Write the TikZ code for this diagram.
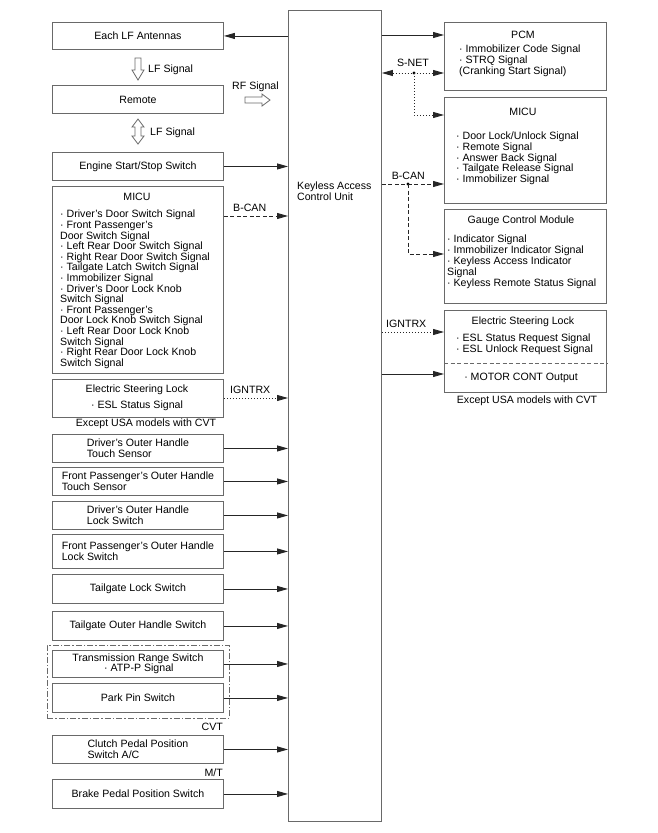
\documentclass[tikz,border=0pt]{standalone}
\usepackage{fontspec}
\setmainfont{Liberation Sans}
\usetikzlibrary{arrows.meta}
\definecolor{boxgray}{RGB}{105,105,105}
\begin{document}
\begin{tikzpicture}[x=1pt,y=-1pt,
  every node/.style={font=\fontsize{10.6}{10.6}\selectfont, inner sep=0pt, text=black},
  box/.style={draw=boxgray, line width=0.9pt, fill=white, anchor=north west, align=left},
  lbox/.style={box, minimum width=171pt},
  rbox/.style={box, minimum width=162pt},
  arr/.style={draw=black!85, line width=0.9pt, -{Triangle[length=11pt,width=6pt]}},
  dsh/.style={arr, dash pattern=on 4pt off 2.5pt},
  dtt/.style={arr, dash pattern=on 1.2pt off 1.8pt},
  hollow/.style={draw=boxgray, line width=0.8pt, fill=white, line join=miter},
  lbl/.style={anchor=west}]
\useasboundingbox (0,0) rectangle (658,833);

% central unit
\node[box, minimum width=93pt, minimum height=811pt] (kacu) at (288,10) {};
\node[anchor=north west, align=left] (kacut) at (297,182) {Keyless Access\\Control Unit};

% dash-dot group
\node[draw=boxgray, line width=0.8pt, dash pattern=on 6pt off 2pt on 1.5pt off 2pt,
  minimum width=182pt, minimum height=73pt, anchor=north west] (atgroup) at (47,645) {};

% left boxes
\node[lbox, minimum height=27pt] (lfa) at (52,22) {Each LF Antennas};
\node[lbox, minimum height=28pt] (rem) at (52,85) {Remote};
\node[lbox, minimum height=28pt] (eng) at (52,152) {Engine Start/Stop Switch};
\node[lbox, minimum height=187pt] (lmicu) at (52,186) {};
\node[lbox, minimum height=38pt] (lesl) at (52,379) {};
\node[lbox, minimum height=28pt] (dtouch) at (52,434) {Driver's Outer Handle\\Touch Sensor};
\node[lbox, minimum height=28pt] (ptouch) at (52,467) {Front Passenger's Outer Handle\\Touch Sensor};
\node[lbox, minimum height=28pt] (dlock) at (52,501) {Driver's Outer Handle\\Lock Switch};
\node[lbox, minimum height=34pt] (plock) at (52,534) {Front Passenger's Outer Handle\\Lock Switch};
\node[lbox, minimum height=29pt] (tlock) at (52,574) {Tailgate Lock Switch};
\node[lbox, minimum height=29pt] (touter) at (52,611) {Tailgate Outer Handle Switch};
\node[lbox, minimum height=27pt, align=center] (trans) at (52,650) {Transmission Range Switch\\$\,$· ATP-P Signal};
\node[lbox, minimum height=29pt] (park) at (52,683) {Park Pin Switch};
\node[lbox, minimum height=28pt] (clutch) at (52,735) {Clutch Pedal Position\\Switch A/C};
\node[lbox, minimum height=29pt] (brake) at (52,779) {Brake Pedal Position Switch};

% left MICU texts
\node (lmicut) at (137,197) {MICU};
\node[anchor=north west, align=left] (lmicul) at (60,210) {· Driver's Door Switch Signal\\· Front Passenger's\\Door Switch Signal\\· Left Rear Door Switch Signal\\· Right Rear Door Switch Signal\\· Tailgate Latch Switch Signal\\· Immobilizer Signal\\· Driver's Door Lock Knob\\Switch Signal\\· Front Passenger's\\Door Lock Knob Switch Signal\\· Left Rear Door Lock Knob\\Switch Signal\\· Right Rear Door Lock Knob\\Switch Signal};

% left ESL texts
\node (leslt) at (137,390) {Electric Steering Lock};
\node (lesll) at (137,406) {· ESL Status Signal};
\node (lexc) at (146,424) {Except USA models with CVT};
\node[anchor=east] (cvt) at (223,727) {CVT};
\node[anchor=east] (mt) at (223,773) {M/T};

% hollow arrows and their labels
\draw[hollow] (135,58) -- (141,58) -- (141,70) -- (144,70) -- (138,80) -- (132,70) -- (135,70) -- cycle;
\draw[hollow] (138,119) -- (144,127) -- (141,127) -- (141,136) -- (144,136) -- (138,144) -- (132,136) -- (135,136) -- (135,127) -- (132,127) -- cycle;
\draw[hollow] (245,97) -- (262,97) -- (262,94) -- (270,100) -- (262,106) -- (262,103) -- (245,103) -- cycle;
\node[lbl] (lfs1) at (148,70) {LF Signal};
\node[lbl] (lfs2) at (150,133) {LF Signal};
\node[lbl] (rfs) at (232,87) {RF Signal};

% right boxes
\node[rbox, minimum height=68pt] (pcm) at (444,22) {};
\node[rbox, minimum height=106pt] (rmicu) at (444,97) {};
\node[rbox, minimum height=94pt] (gauge) at (444,209) {};
\node[rbox, minimum height=82pt] (resl) at (444,310) {};

\node (pcmt) at (523,35) {PCM};
\node[anchor=north west, align=left, font=\fontsize{10.6}{11}\selectfont] (pcml) at (459,45) {· Immobilizer Code Signal\\· STRQ Signal\\(Cranking Start Signal)};
\node (rmicut) at (523,112) {MICU};
\node[anchor=north west, align=left] (rmicul) at (456,132) {· Door Lock/Unlock Signal\\· Remote Signal\\· Answer Back Signal\\· Tailgate Release Signal\\· Immobilizer Signal};
\node (gaugt) at (521,221) {Gauge Control Module};
\node[anchor=north west, align=left, font=\fontsize{10.6}{10.8}\selectfont] (gaugl) at (447,235) {· Indicator Signal\\· Immobilizer Indicator Signal\\· Keyless Access Indicator\\Signal\\· Keyless Remote Status Signal};
\node (reslt) at (523,322) {Electric Steering Lock};
\node[anchor=north west, align=left] (resll) at (456,334) {· ESL Status Request Signal\\· ESL Unlock Request Signal};
\node (motor) at (521,378) {· MOTOR CONT Output};
\node (rexc) at (527,401) {Except USA models with CVT};
\coordinate (divc) at (500,363);
\draw[boxgray, line width=0.8pt, dash pattern=on 4pt off 2.5pt] (resl.west |- divc) -- (resl.east |- divc);

% left connectors
\draw[arr] (kacu.west |- lfa.east) -- (lfa.east);
\draw[arr] (eng.east) -- (eng.east -| kacu.west);
\coordinate (bcanL) at (250,216);
\draw[dsh] (bcanL -| lmicu.east) -- (bcanL -| kacu.west);
\node[lbl] (bcanLt) at (233,208) {B-CAN};
\coordinate (ignL) at (250,398);
\draw[dtt] (ignL -| lesl.east) -- (ignL -| kacu.west);
\node[lbl] (ignLt) at (230,390) {IGNTRX};
\foreach \n in {dtouch,ptouch,dlock,plock,tlock,touter,trans,park,clutch,brake}
  \draw[arr] (\n.east) -- (\n.east -| kacu.west);

% right connectors
\coordinate (pcmc) at (400,35);
\draw[arr] (pcmc -| kacu.east) -- (pcmc -| pcm.west);
\coordinate (snet) at (414,73);
\draw[dtt, {Triangle[length=11pt,width=6pt]}-{Triangle[length=11pt,width=6pt]}] (snet -| kacu.east) -- (snet -| pcm.west);
\fill (snet) circle (1.6pt);
\coordinate (snet2) at (414,115);
\draw[dtt] (snet) -- (snet2) -- (snet2 -| rmicu.west);
\node (snett) at (413,63) {S-NET};
\coordinate (bcanR) at (408,184);
\draw[dsh] (bcanR -| kacu.east) -- (bcanR -| rmicu.west);
\fill (bcanR) circle (1.6pt);
\coordinate (bcanR2) at (408,254);
\draw[dsh] (bcanR) -- (bcanR2) -- (bcanR2 -| gauge.west);
\node[anchor=east] (bcanRt) at (425,176) {B-CAN};
\coordinate (ignR) at (400,332);
\draw[dtt] (ignR -| kacu.east) -- (ignR -| resl.west);
\node[lbl] (ignRt) at (386,324) {IGNTRX};
\coordinate (motc) at (400,374);
\draw[arr] (motc -| kacu.east) -- (motc -| resl.west);
\end{tikzpicture}
\end{document}
